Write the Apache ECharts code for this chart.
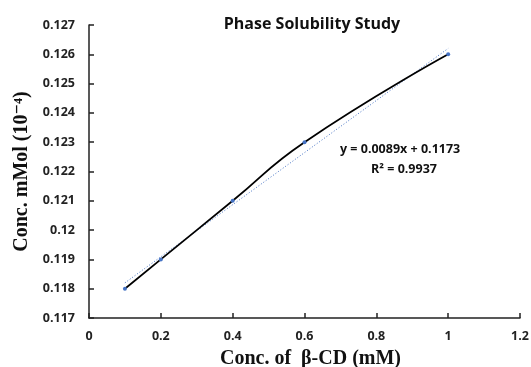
<!DOCTYPE html>
<html>
<head>
<meta charset="utf-8">
<script src="https://cdn.jsdelivr.net/npm/echarts@6/dist/echarts.min.js"></script>
<style>
  html, body { margin: 0; padding: 0; background: #fff; }
  #chart { width: 531px; height: 367px; }
</style>
</head>
<body>
<div id="chart"></div>
<script>
// measured points
const conc = [0.1, 0.2, 0.4, 0.6, 1.0];
const solub = [0.118, 0.119, 0.121, 0.123, 0.126];
// linear trendline y = 0.0089x + 0.1173, ends at first and last x
const trendX = [0.1, 1.0];
const trendY = [0.1182, 0.1262];
const trendText = ['y = 0.0089x + 0.1173', 'R\u00b2 = 0.9937'];

const sans = '"Open Sans", "Liberation Sans", sans-serif';
const serif = '"Liberation Serif", "DejaVu Serif", serif';

const chart = echarts.init(document.getElementById('chart'));

function fmt(v) {
  return String(parseFloat(v.toFixed(4)));
}

chart.setOption({
  animation: false,
  backgroundColor: '#fff',
  title: {
    text: 'Phase Solubility Study',
    left: 307,
    top: 11,
    textAlign: 'center',
    textStyle: { fontFamily: sans, fontSize: 16, fontWeight: 'bold', color: '#111' },
  },
  grid: { left: 89, right: 11, top: 25, bottom: 49, containLabel: false, outerBoundsMode: 'none' },
  xAxis: {
    type: 'value',
    min: 0,
    max: 1.2,
    interval: 0.2,
    name: 'Conc. of  \u03b2-CD (mM)',
    nameLocation: 'middle',
    nameGap: 31,
    nameTextStyle: { fontFamily: serif, fontSize: 20, fontWeight: 'bold', color: '#111', padding: [0, 0, 0, 12] },
    axisLine: { lineStyle: { color: '#222', width: 1.5 } },
    axisTick: { inside: true, length: 5, lineStyle: { color: '#222', width: 1.5 } },
    axisLabel: { fontFamily: sans, fontSize: 12.5, fontWeight: 'bold', color: '#222', margin: 12, formatter: fmt },
    splitLine: { show: false },
  },
  yAxis: {
    type: 'value',
    min: 0.117,
    max: 0.127,
    interval: 0.001,
    name: 'Conc. mMol (10\u207b\u2074)',
    nameLocation: 'middle',
    nameGap: 56,
    nameTextStyle: { fontFamily: serif, fontSize: 20, fontWeight: 'bold', color: '#111' },
    axisLine: { show: true, lineStyle: { color: '#222', width: 1.5 } },
    axisTick: { show: true, inside: true, length: 5, lineStyle: { color: '#222', width: 1.5 } },
    axisLabel: { fontFamily: sans, fontSize: 12.5, fontWeight: 'bold', color: '#222', margin: 14, formatter: fmt },
    splitLine: { show: false },
  },
  series: [
    {
      name: 'trend',
      type: 'line',
      data: trendX.map((x, i) => [x, trendY[i]]),
      symbol: 'none',
      lineStyle: { color: '#4472C4', width: 1, type: [1, 2] },
      z: 1,
    },
    {
      name: 'data',
      type: 'line',
      data: conc.map((x, i) => [x, solub[i]]),
      smooth: 0.5,
      symbol: 'circle',
      symbolSize: 4,
      itemStyle: { color: '#4472C4' },
      lineStyle: { color: '#000', width: 1.8 },
      z: 2,
    },
  ],
  graphic: [
    {
      type: 'text',
      left: 340,
      top: 143,
      style: { text: trendText[0], fontFamily: sans, fontSize: 12.5, fontWeight: 'bold', fill: '#111' },
    },
    {
      type: 'text',
      left: 371,
      top: 163,
      style: { text: trendText[1], fontFamily: sans, fontSize: 12.5, fontWeight: 'bold', fill: '#111' },
    },
  ],
});
</script>
</body>
</html>
